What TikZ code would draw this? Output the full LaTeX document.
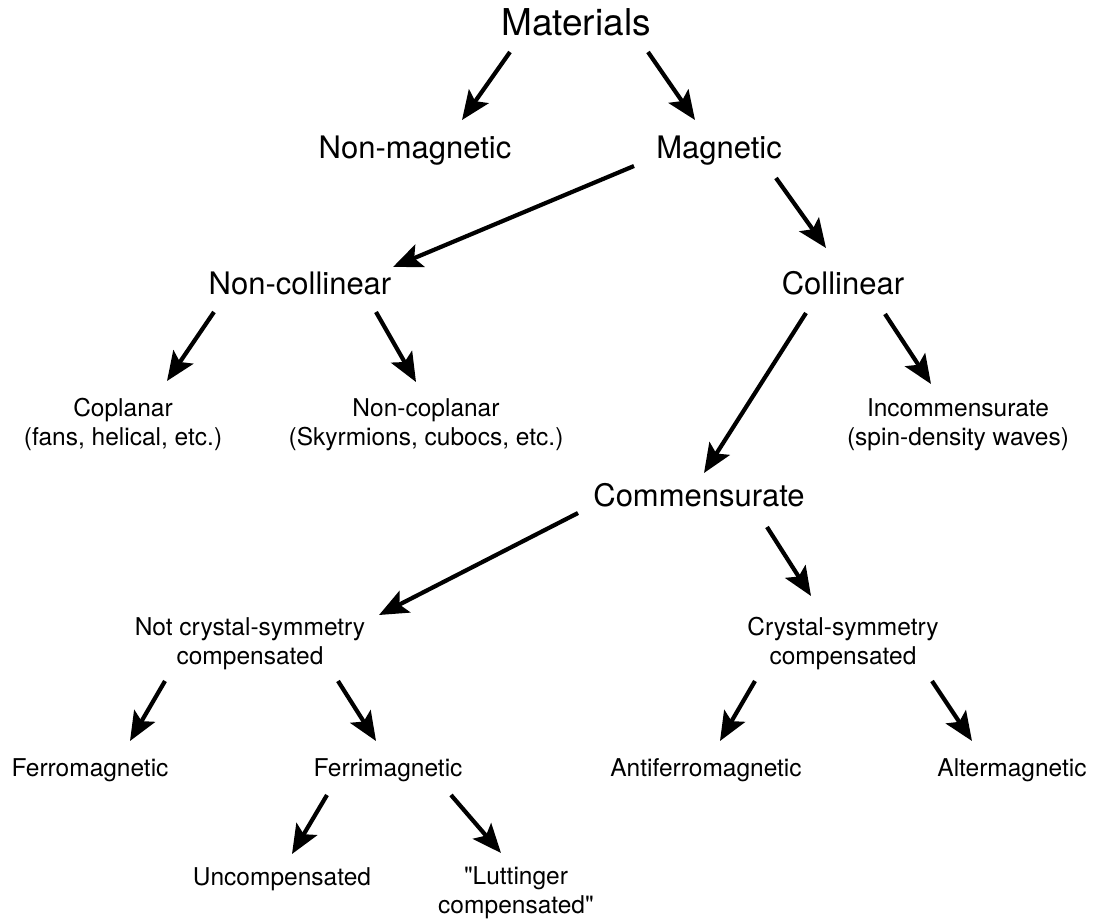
\documentclass[tikz,border=0pt]{standalone}
\usepackage{fontspec}
\setmainfont{TeX Gyre Heros}
\newfontfamily\plainq{TeX Gyre Heros}
\usetikzlibrary{arrows.meta,calc}
\newcommand{\sq}{{\plainq\symbol{34}}}
\begin{document}
\begin{tikzpicture}[x=1pt,y=-1pt,
  big/.style={font=\fontsize{37}{44}\selectfont, anchor=base, inner sep=0pt},
  mid/.style={font=\fontsize{31}{37}\selectfont, anchor=base, inner sep=0pt},
  small/.style={font=\fontsize{24.5}{29}\selectfont, anchor=base, inner sep=0pt, align=center},
  arr/.style={line width=4.2pt, -{Stealth[length=29pt,width=24pt,inset=6pt]}}]
\useasboundingbox[fill=white] (0,0) rectangle (1109,922);

% single-line nodes: base = baseline; two-line nodes: base = baseline of last line
\node[big] (mat) at (576,35) {Materials};
\node[mid] (nonmag) at (415,158) {Non-magnetic};
\node[mid] (mag) at (719,158) {Magnetic};
\node[mid] (noncol) at (300,294) {Non-collinear};
\node[mid] (col) at (843,294) {Collinear};
\node[small] (copl) at (123,445) {Coplanar\\(fans, helical, etc.)};
\node[small] (noncopl) at (426,445) {Non-coplanar\\(Skyrmions, cubocs, etc.)};
\node[small] (incomm) at (958,445) {Incommensurate\\(spin-density waves)};
\node[mid] (comm) at (699,506) {Commensurate};
\node[small] (notcs) at (250,664) {Not crystal-symmetry\\compensated};
\node[small] (cs) at (843,664) {Crystal-symmetry\\compensated};
\node[small] (ferro) at (90,776) {Ferromagnetic};
\node[small] (ferri) at (388,776) {Ferrimagnetic};
\node[small] (afm) at (706,776) {Antiferromagnetic};
\node[small] (alt) at (1012,776) {Altermagnetic};
\node[small] (uncomp) at (282,885) {Uncompensated};
\node[small] (lutt) at (516,913) {\sq Luttinger\\compensated\sq};

\draw[arr] ($(mat.base)+(-66,17)$) -- ($(nonmag.base)+(47,-38)$);
\draw[arr] ($(mat.base)+(72,17)$) -- ($(mag.base)+(-24,-38)$);
\draw[arr] ($(mag.base)+(-85,8)$) -- ($(noncol.base)+(93,-27)$);
\draw[arr] ($(mag.base)+(57,20)$) -- ($(col.base)+(-17,-46)$);
\draw[arr] ($(noncol.base)+(-86,18)$) -- ($(copl.base)+(44,-64)$);
\draw[arr] ($(noncol.base)+(76,18)$) -- ($(noncopl.base)+(-10,-63)$);
\draw[arr] ($(col.base)+(-37,19)$) -- ($(comm.base)+(5,-33)$);
\draw[arr] ($(col.base)+(42,20)$) -- ($(incomm.base)+(-27,-61)$);
\draw[arr] ($(comm.base)+(-121,7)$) -- ($(notcs.base)+(129,-49)$);
\draw[arr] ($(comm.base)+(68,21)$) -- ($(cs.base)+(-32,-68)$);
\draw[arr] ($(notcs.base)+(-85,17)$) -- ($(ferro.base)+(40,-35)$);
\draw[arr] ($(notcs.base)+(88,17)$) -- ($(ferri.base)+(-12,-35)$);
\draw[arr] ($(cs.base)+(-88,17)$) -- ($(afm.base)+(14,-35)$);
\draw[arr] ($(cs.base)+(89,17)$) -- ($(alt.base)+(-40,-35)$);
\draw[arr] ($(ferri.base)+(-61,19)$) -- ($(uncomp.base)+(10,-31)$);
\draw[arr] ($(ferri.base)+(63,19)$) -- ($(lutt.base)+(-15,-60)$);
\end{tikzpicture}
\end{document}
